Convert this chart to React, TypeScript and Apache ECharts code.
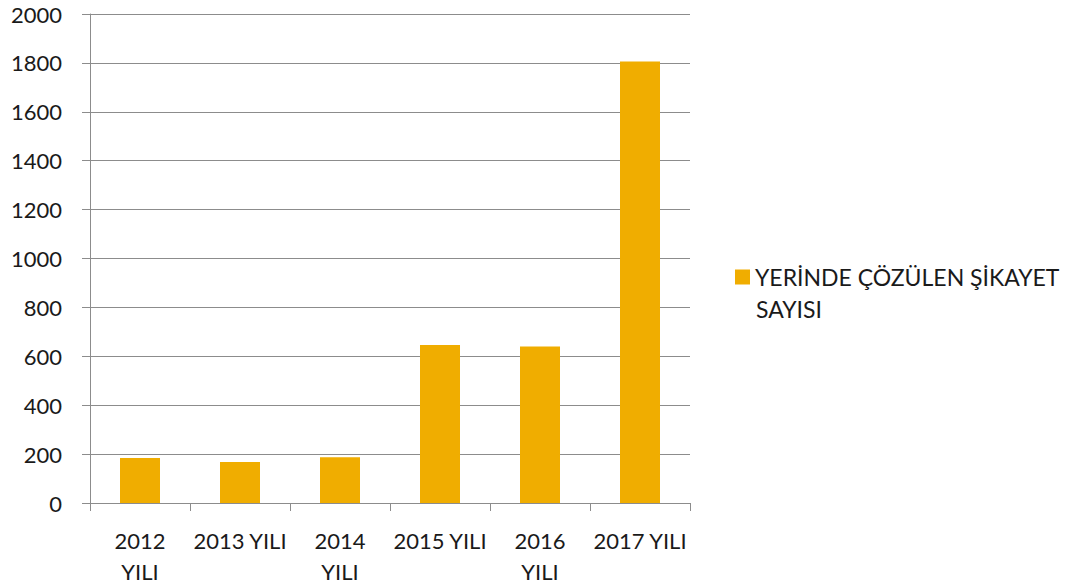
import React, { useEffect, useRef } from "react";
import * as echarts from "echarts";

const categories = ["2012 YILI", "2013 YILI", "2014 YILI", "2015 YILI", "2016 YILI", "2017 YILI"];
const values = [184, 168, 187, 646, 640, 1806];
const seriesName = "YERİNDE ÇÖZÜLEN ŞİKAYET SAYISI";
const legendLine1 = "YERİNDE ÇÖZÜLEN ŞİKAYET";
const legendLine2 = "SAYISI";
const yMax = 2000;
const yInterval = 200;

export default function App() {
  const ref = useRef<HTMLDivElement>(null);
  useEffect(() => {
    if (!ref.current) return;
    const chart = echarts.init(ref.current, null, { renderer: "svg" });
    const font = "Lato, 'Open Sans', sans-serif";
    chart.setOption({
      animation: false,
      textStyle: { fontFamily: font },
      grid: { left: 90, right: 399, top: 14, bottom: 83, containLabel: false },
      legend: {
        orient: "vertical",
        left: 735,
        top: 263,
        padding: 0,
        itemWidth: 15,
        itemHeight: 15,
        icon: "rect",
        formatter: () => legendLine1,
        textStyle: { fontSize: 23, color: "#1a1a1a", fontFamily: font, lineHeight: 28 },
      },
      graphic: [
        {
          type: "text",
          left: 756,
          top: 297,
          style: { text: legendLine2, fontSize: 23, fill: "#1a1a1a", fontFamily: font },
        },
      ],
      xAxis: {
        type: "category",
        data: categories,
        axisLine: { lineStyle: { color: "#8c8c8c", width: 1 } },
        axisTick: { show: true, length: 8, lineStyle: { color: "#8c8c8c" } },
        axisLabel: {
          interval: 0,
          margin: 22,
          fontSize: 22,
          lineHeight: 31,
          color: "#1a1a1a",
          fontFamily: font,
          formatter: (v: string, i: number) => (i % 2 === 0 ? v.replace(" ", "\n") : v),
        },
      },
      yAxis: {
        type: "value",
        min: 0,
        max: yMax,
        interval: yInterval,
        axisLine: { show: true, lineStyle: { color: "#8c8c8c", width: 1 } },
        axisTick: { show: true, length: 8, lineStyle: { color: "#8c8c8c" } },
        splitLine: { lineStyle: { color: "#8c8c8c", width: 1 } },
        axisLabel: {
          margin: 28,
          fontSize: 22,
          color: "#1a1a1a",
          fontFamily: font,
          formatter: (v: number) => String(v),
        },
      },
      series: [
        {
          name: seriesName,
          type: "bar",
          data: values,
          barWidth: "40%",
          itemStyle: { color: "#F0AD00" },
        },
      ],
    });
    return () => chart.dispose();
  }, []);
  return <div ref={ref} style={{ width: 1089, height: 587, position: "absolute", left: 0, top: 0 }} />;
}
